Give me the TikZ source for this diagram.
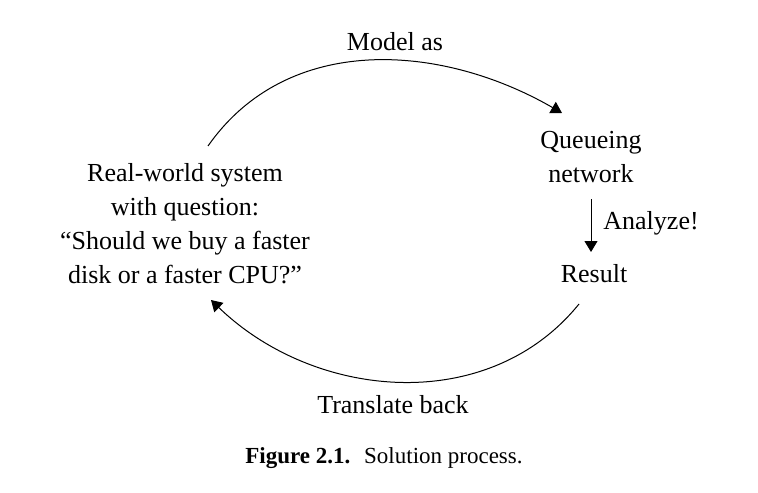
\documentclass[tikz,border=0pt]{standalone}
\usepackage{fontspec}
\setmainfont{Liberation Serif}
\usetikzlibrary{arrows.meta}

\begin{document}
\begin{tikzpicture}[x=0.5pt,y=-0.5pt,
  lbl/.style={font=\fontsize{13}{16.85}\selectfont,inner sep=0pt,anchor=base,align=center},
  flow/.style={line width=0.5pt,-{Triangle[length=5.5pt,width=6.5pt]}}]
  \useasboundingbox (0,0) rectangle (758,492);
  \node[lbl] (model) at (395,51) {Model as};
  \node[lbl] (queue) at (591,182) {Queueing\\network};
  \node[lbl,anchor=base west] (analyze) at (603,229) {Analyze!};
  \node[lbl] (result) at (594,282) {Result};
  \node[lbl] (real) at (185,283) {Real-world system\\with question:\\``Should we buy a faster\\disk or a faster CPU?''};
  \node[lbl] (back) at (393,413) {Translate back};
  \node[lbl,font=\fontsize{11.5}{14}\selectfont] (caption) at (384,463) {\textbf{Figure 2.1.}\hspace{0.6em}Solution process.};

  \coordinate (m1) at (208,146);
  \coordinate (m2) at (562,113);
  \coordinate (a1) at (591,199);
  \coordinate (a2) at (591,252);
  \coordinate (t1) at (579,304);
  \coordinate (t2) at (211,300);
  \draw[flow] (m1) to[out=55,in=150] (m2);
  \draw[flow] (a1) -- (a2);
  \draw[flow] (t1) to[out=-129,in=-44] (t2);
\end{tikzpicture}
\end{document}
